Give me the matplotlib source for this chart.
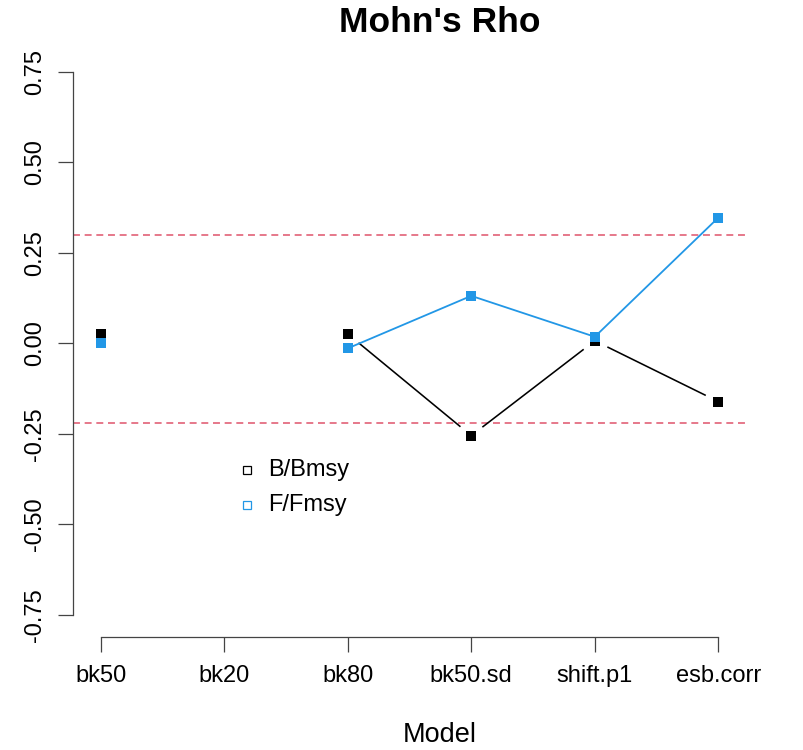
import numpy as np
import matplotlib
matplotlib.use("Agg")
import matplotlib.pyplot as plt

plt.rcParams['font.family'] = ['Liberation Sans', 'DejaVu Sans']
plt.rcParams['lines.scale_dashes'] = False

# Mohn's rho per model run (NaN = run without a retrospective estimate)
models = ["bk50", "bk20", "bk80", "bk50.sd", "shift.p1", "esb.corr"]
rho_bbmsy = [0.026, np.nan, 0.026, -0.255, 0.007, -0.161]
rho_ffmsy = [0.000, np.nan, -0.014, 0.131, 0.018, 0.347]
thresholds = [0.30, -0.22]
yticks = [-0.75, -0.50, -0.25, 0.00, 0.25, 0.50, 0.75]

BLACK = "black"
BLUE = "#2297E6"
RED = "#DF536B"
AXIS = "#444444"

W, H = 804, 750
fig = plt.figure(figsize=(W / 100, H / 100), dpi=100)
ax = fig.add_axes([73 / W, 1 - 637 / H, (746 - 73) / W, (637 - 49.6) / H])

x = np.arange(1, len(models) + 1)
ax.set_xlim(0.776, 6.224)
ax.set_ylim(-0.811, 0.811)

# reference bands
for t in thresholds:
    ax.axhline(t, color=RED, lw=1.1, dashes=(5.0, 3.4), zorder=1)

# B/Bmsy: points joined by lines that stop short of each point
fig.canvas.draw()
trans = ax.transData
gap = 14.0  # pixels
yb = np.array(rho_bbmsy, dtype=float)
for i in range(len(x) - 1):
    if np.isnan(yb[i]) or np.isnan(yb[i + 1]):
        continue
    p0 = trans.transform((x[i], yb[i]))
    p1 = trans.transform((x[i + 1], yb[i + 1]))
    d = p1 - p0
    L = np.hypot(*d)
    u = d / L
    q0 = trans.inverted().transform(p0 + u * gap)
    q1 = trans.inverted().transform(p1 - u * gap)
    ax.plot([q0[0], q1[0]], [q0[1], q1[1]], color=BLACK, lw=1.15, zorder=2,
            solid_capstyle='butt')
ax.plot(x, yb, linestyle='none', marker='s', markersize=7.8,
        markeredgewidth=0, color=BLACK, zorder=3)

# F/Fmsy: points and connecting line
ax.plot(x, rho_ffmsy, color=BLUE, lw=1.3, marker='s', markersize=7.8,
        markeredgewidth=0, zorder=4)

# axes in base-graphics style
for s in ["top", "right"]:
    ax.spines[s].set_visible(False)
ax.spines["left"].set_bounds(-0.75, 0.75)
ax.spines["bottom"].set_bounds(1, 6)
for s in ["left", "bottom"]:
    ax.spines[s].set_color(AXIS)
    ax.spines[s].set_linewidth(0.9)

ax.set_xticks(x)
ax.set_xticklabels(models)
ax.set_yticks(yticks)
ax.set_yticklabels([f"{v:.2f}" for v in yticks], rotation=90, va='center')
ax.tick_params(axis='both', length=10.5, width=0.9, color=AXIS,
               labelsize=17, labelcolor='black')
ax.tick_params(axis='x', pad=10)
ax.tick_params(axis='y', pad=9)

fig.text(440 / W, 1 - 23 / H, "Mohn's Rho", ha='center',
         va='center', fontsize=25.5, fontweight='bold')
fig.text(440 / W, 1 - 735 / H, "Model", ha='center', va='center',
         fontsize=19.5)

# legend with open squares
for lbl, col, yy in [("B/Bmsy", BLACK, 470), ("F/Fmsy", BLUE, 505)]:
    fig.lines.append(plt.Line2D([246.7 / W], [1 - yy / H], marker='s',
                                markersize=6.2, markerfacecolor='none',
                                markeredgecolor=col, markeredgewidth=0.9,
                                linestyle='none', transform=fig.transFigure))
    fig.text(268.3 / W, 1 - yy / H, lbl, ha='left', va='center', fontsize=17)

fig.savefig("out.png", dpi=100)
